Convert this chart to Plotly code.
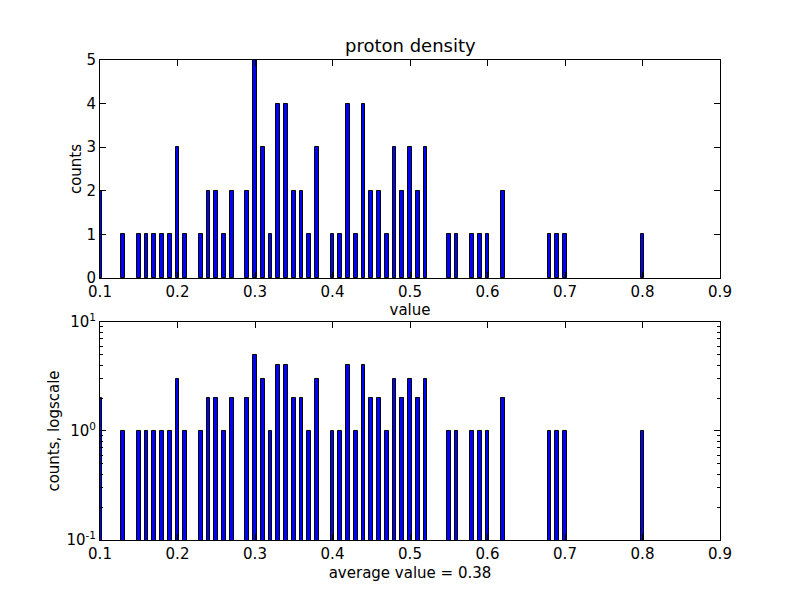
import plotly.graph_objects as go
from plotly.subplots import make_subplots

values = [0.10, 0.13, 0.15, 0.16, 0.17, 0.18, 0.19, 0.20, 0.21, 0.23, 0.24, 0.25,
          0.26, 0.27, 0.29, 0.30, 0.31, 0.32, 0.33, 0.34, 0.35, 0.36, 0.37, 0.38,
          0.40, 0.41, 0.42, 0.43, 0.44, 0.45, 0.46, 0.47, 0.48, 0.49, 0.50, 0.51,
          0.52, 0.55, 0.56, 0.58, 0.59, 0.60, 0.62, 0.68, 0.69, 0.70, 0.80]
counts = [2, 1, 1, 1, 1, 1, 1, 3, 1, 1, 2, 2,
          1, 2, 2, 5, 3, 1, 4, 4, 2, 2, 1, 3,
          1, 1, 4, 1, 4, 2, 2, 1, 3, 2, 3, 2,
          3, 1, 1, 1, 1, 1, 2, 1, 1, 1, 1]
x_ticks = [0.1, 0.2, 0.3, 0.4, 0.5, 0.6, 0.7, 0.8, 0.9]
x_ticktext = ["0.1", "0.2", "0.3", "0.4", "0.5", "0.6", "0.7", "0.8", "0.9"]
y_ticks = [0, 1, 2, 3, 4, 5]
log_ticks = [0.1, 1, 10]
log_ticktext = ["10<sup>-1</sup>", "10<sup>0</sup>", "10<sup>1</sup>"]

BIN_W = 0.0048
FONT = "DejaVu Sans"

fig = make_subplots(rows=2, cols=1, vertical_spacing=0.0916)

bar_style = dict(marker=dict(color="#0000ff", line=dict(color="black", width=1)),
                 width=BIN_W, showlegend=False, hoverinfo="x+y")
fig.add_trace(go.Bar(x=values, y=counts, **bar_style), row=1, col=1)
fig.add_trace(go.Bar(x=values, y=counts, **bar_style), row=2, col=1)

axis_common = dict(showline=True, linecolor="black", linewidth=1, mirror="ticks",
                   ticks="inside", ticklen=6, tickcolor="black", showgrid=False,
                   zeroline=False, automargin=False,
                   tickfont=dict(family=FONT, size=15, color="black"))

for r in (1, 2):
    fig.update_xaxes(range=[0.1, 0.9], tickvals=x_ticks, ticktext=x_ticktext,
                     row=r, col=1, **axis_common)

fig.update_yaxes(range=[0, 5], tickvals=y_ticks, row=1, col=1, **axis_common)

minor_vals = [k * 10.0 ** e for e in (-1, 0) for k in range(2, 10)]
fig.update_yaxes(type="log", range=[-1, 1], tickvals=log_ticks, ticktext=log_ticktext,
                 minor=dict(ticks="inside", ticklen=3, tickcolor="black", tickvals=minor_vals),
                 row=2, col=1, **axis_common)

title_font = dict(family=FONT, size=15, color="black")
fig.update_xaxes(title=dict(text="value", font=title_font, standoff=4), row=1, col=1)
fig.update_xaxes(title=dict(text="average value = 0.38", font=title_font, standoff=5), row=2, col=1)
fig.update_yaxes(title=dict(text="counts", font=title_font, standoff=1), row=1, col=1)
fig.update_yaxes(title=dict(text="counts, logscale", font=title_font, standoff=3), row=2, col=1)

fig.update_layout(
    width=800, height=600,
    paper_bgcolor="white", plot_bgcolor="white",
    margin=dict(l=100, r=80, t=60, b=60, autoexpand=False),
    bargap=0,
    annotations=list(fig.layout.annotations) + [
        dict(text="proton density", xref="paper", yref="paper", x=0.5, y=1,
             xanchor="center", yanchor="bottom", yshift=2, showarrow=False,
             font=dict(family=FONT, size=18, color="black")),
    ],
)

# sin el margen por defecto del <body>, para que la figura empiece en (0, 0)
fig.write_html("out.html", config={"displayModeBar": False},
               post_script="document.body.style.margin='0';")
